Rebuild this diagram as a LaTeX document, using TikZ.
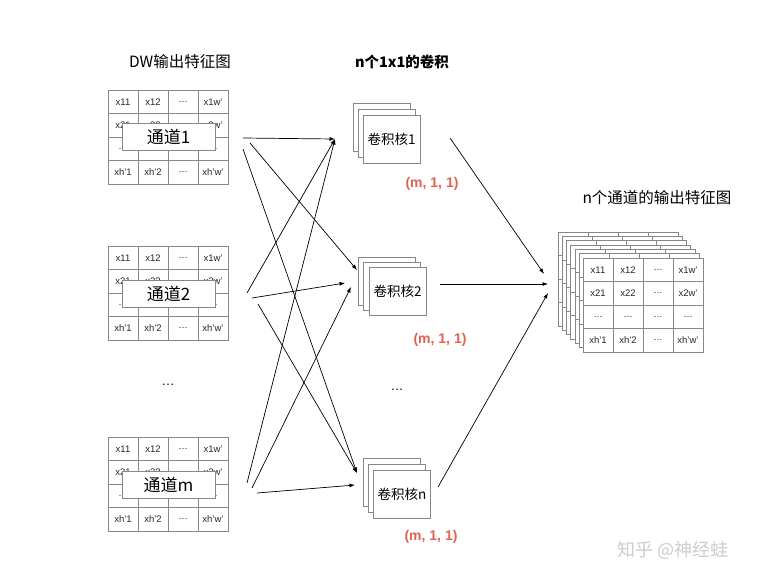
\documentclass[tikz,border=0pt]{standalone}
\usepackage{fontspec}
\setmainfont{Liberation Sans}
\newfontfamily\cjk{Noto Sans CJK SC}
\usetikzlibrary{arrows.meta}
\definecolor{gridline}{RGB}{135,135,135}
\definecolor{shapered}{RGB}{224,98,80}
\definecolor{wm}{RGB}{205,205,205}
\tikzset{
 cell/.style={draw=gridline, line width=0.6pt, fill=white, minimum width=30pt, minimum height=23.5pt, inner sep=0pt, font=\fontsize{9.5}{11}\selectfont, text=black!85},
 chanlabel/.style={draw=gridline, line width=0.6pt, fill=white, minimum width=93pt, minimum height=27pt, inner sep=0pt, font=\cjk\fontsize{17}{19}\selectfont},
 kernel/.style={draw=gridline, fill=white, minimum width=57pt, minimum height=48pt, inner sep=0pt, line width=0.6pt},
 kernellabel/.style={font=\cjk\fontsize{13.5}{15}\selectfont},
 shapelbl/.style={text=shapered, font=\bfseries\fontsize{14}{16}\selectfont},
 conn/.style={-{Latex[length=5.5pt,width=4pt]}, line width=0.7pt},
 title/.style={font=\cjk\fontsize{15.5}{18}\selectfont},
 dotslbl/.style={font=\fontsize{13}{15}\selectfont},
}
\newcommand\fgrid[3]{%
 \foreach \t [count=\i from 0] in {x11,x12,\dots,x1w’,x21,x22,\dots,x2w’,\dots,\dots,\dots,\dots,xh’1,xh’2,\dots,xh’w’}{%
  \pgfmathtruncatemacro\cc{mod(\i,4)}%
  \pgfmathtruncatemacro\rr{div(\i,4)}%
  \node[cell] (#1-\i) at ({#2+15+30*\cc},{#3+11.75+23.5*\rr}) {\t};
 }%
}
\newcommand\egrid[3]{%
 \foreach \i in {0,...,15}{%
  \pgfmathtruncatemacro\cc{mod(\i,4)}%
  \pgfmathtruncatemacro\rr{div(\i,4)}%
  \node[cell] (#1-\i) at ({#2+15+30*\cc},{#3+11.75+23.5*\rr}) {};
 }%
}
\begin{document}
\begin{tikzpicture}[x=1pt,y=-1pt]
\useasboundingbox (0,0) rectangle (762,582);
\fill[white] (0,0) rectangle (762,582);

% titles
\node[title] (t1) at (180,62) {DW输出特征图};
\node[title,font=\cjk\bfseries\fontsize{14.5}{17}\selectfont] (t2) at (402,62) {n个1x1的卷积};
\node[title] (t3) at (657,198) {n个通道的输出特征图};

% left grids
\fgrid{ga}{108}{90}
\node[chanlabel] (la) at (168.5,136.5) {通道1};
\fgrid{gb}{108}{246}
\node[chanlabel] (lb) at (168.5,293.5) {通道2};
\fgrid{gc}{108}{437}
\node[chanlabel] (lc) at (168.5,484.5) {通道m};
\node[dotslbl] (d1) at (168,385) {\dots};

% kernels
\node[kernel] (k1c) at (381.5,127.5) {};
\node[kernel] (k1b) at (386.5,133.5) {};
\node[kernel] (k1) at (391.5,139) {};
\node[kernellabel] (k1t) at (k1) {卷积核1};
\node[shapelbl] (s1) at (432,184) {(m, 1, 1)};

\node[kernel] (k2c) at (386.5,281) {};
\node[kernel] (k2b) at (392,286) {};
\node[kernel] (k2) at (397.5,291) {};
\node[kernellabel] (k2t) at (k2) {卷积核2};
\node[shapelbl] (s2) at (440,340) {(m, 1, 1)};

\node[kernel] (k3c) at (391.5,482) {};
\node[kernel] (k3b) at (396.5,488) {};
\node[kernel] (k3) at (402,494) {};
\node[kernellabel] (k3t) at (k3) {卷积核n};
\node[shapelbl] (s3) at (431,537) {(m, 1, 1)};
\node[dotslbl] (d2) at (397,390) {\dots};

% output stack
\foreach \k in {0,...,5}{
  \egrid{o\k}{558+4.2*\k}{232+4.3*\k}
}
\fgrid{out}{583}{258}

% arrow end coordinates
\coordinate (a1s) at (243,138);
\coordinate (a2s) at (250,143);
\coordinate (a3s) at (243,149);
\coordinate (b1s) at (247,293);
\coordinate (b2s) at (252,298);
\coordinate (b3s) at (258,304);
\coordinate (c1s) at (247,483);
\coordinate (c2s) at (252,488);
\coordinate (c3s) at (257,493);
\coordinate (k1in) at (335,139);
\coordinate (k2inA) at (357,270);
\coordinate (k2inB) at (345,283);
\coordinate (k2inC) at (351,287);
\coordinate (k3inA) at (357,473);
\coordinate (k3inB) at (355,485);
\coordinate (k1out) at (450,138);
\coordinate (k2out) at (440,284);
\coordinate (k3out) at (438,487);
\coordinate (oinA) at (544,274);
\coordinate (oinB) at (548,284);
\coordinate (oinC) at (548,293);

\draw[conn] (a1s) -- (k1in);
\draw[conn] (a2s) -- (k2inA);
\draw[conn] (a3s) -- (k3inA);
\draw[conn] (b1s) -- (k1in);
\draw[conn] (b2s) -- (k2inB);
\draw[conn] (b3s) -- (k3inA);
\draw[conn] (c1s) -- (k1in);
\draw[conn] (c2s) -- (k2inC);
\draw[conn] (c3s) -- (k3inB);
\draw[conn] (k1out) -- (oinA);
\draw[conn] (k2out) -- (oinB);
\draw[conn] (k3out) -- (oinC);

% watermark
\node[text=wm, font=\cjk\fontsize{18}{20}\selectfont] (wmk) at (673,550) {知乎 @神经蛙};
\end{tikzpicture}
\end{document}
